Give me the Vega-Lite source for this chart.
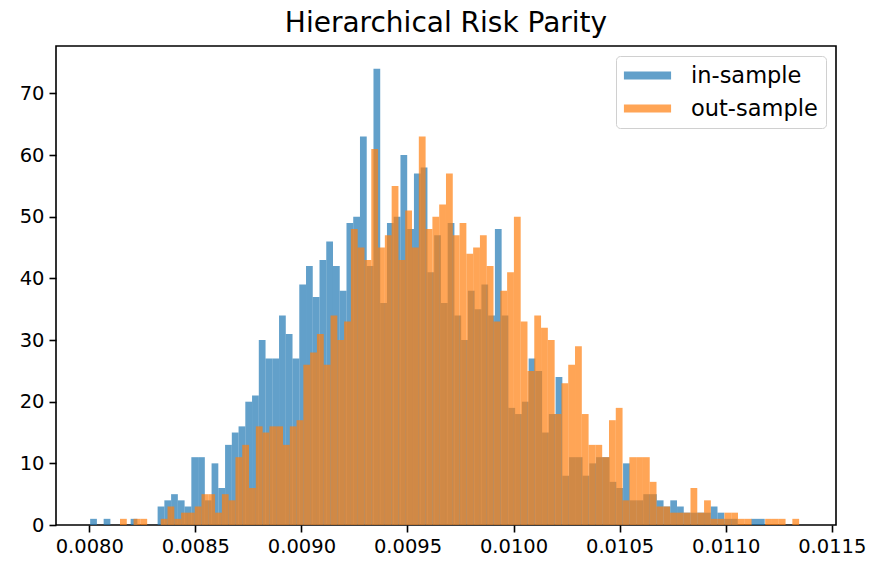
{
  "$schema": "https://vega.github.io/schema/vega-lite/v6.json",
  "width": 780,
  "height": 479,
  "autosize": {"type": "none"},
  "padding": {"left": 56, "top": 46, "right": 37, "bottom": 40},
  "background": "#ffffff",
  "title": {"text": "Hierarchical Risk Parity", "font": "DejaVu Sans", "fontSize": 28, "fontWeight": "normal", "color": "#000000", "offset": 12, "baseline": "alphabetic", "frame": "group", "anchor": "middle", "dy": 26},
  "data": {"values": [
    {"s": "in-sample", "lo": 0.0080040, "hi": 0.0080358, "n": 1},
    {"s": "in-sample", "lo": 0.0080676, "hi": 0.0080994, "n": 1},
    {"s": "in-sample", "lo": 0.0081948, "hi": 0.0082266, "n": 1},
    {"s": "in-sample", "lo": 0.0083220, "hi": 0.0083538, "n": 3},
    {"s": "in-sample", "lo": 0.0083538, "hi": 0.0083856, "n": 4},
    {"s": "in-sample", "lo": 0.0083856, "hi": 0.0084174, "n": 5},
    {"s": "in-sample", "lo": 0.0084174, "hi": 0.0084492, "n": 4},
    {"s": "in-sample", "lo": 0.0084492, "hi": 0.0084810, "n": 3},
    {"s": "in-sample", "lo": 0.0084810, "hi": 0.0085128, "n": 11},
    {"s": "in-sample", "lo": 0.0085128, "hi": 0.0085446, "n": 11},
    {"s": "in-sample", "lo": 0.0085446, "hi": 0.0085764, "n": 4},
    {"s": "in-sample", "lo": 0.0085764, "hi": 0.0086082, "n": 10},
    {"s": "in-sample", "lo": 0.0086082, "hi": 0.0086400, "n": 6},
    {"s": "in-sample", "lo": 0.0086400, "hi": 0.0086718, "n": 13},
    {"s": "in-sample", "lo": 0.0086718, "hi": 0.0087036, "n": 15},
    {"s": "in-sample", "lo": 0.0087036, "hi": 0.0087354, "n": 16},
    {"s": "in-sample", "lo": 0.0087354, "hi": 0.0087672, "n": 20},
    {"s": "in-sample", "lo": 0.0087672, "hi": 0.0087990, "n": 21},
    {"s": "in-sample", "lo": 0.0087990, "hi": 0.0088308, "n": 30},
    {"s": "in-sample", "lo": 0.0088308, "hi": 0.0088626, "n": 27},
    {"s": "in-sample", "lo": 0.0088626, "hi": 0.0088944, "n": 27},
    {"s": "in-sample", "lo": 0.0088944, "hi": 0.0089262, "n": 34},
    {"s": "in-sample", "lo": 0.0089262, "hi": 0.0089580, "n": 31},
    {"s": "in-sample", "lo": 0.0089580, "hi": 0.0089898, "n": 27},
    {"s": "in-sample", "lo": 0.0089898, "hi": 0.0090216, "n": 39},
    {"s": "in-sample", "lo": 0.0090216, "hi": 0.0090534, "n": 42},
    {"s": "in-sample", "lo": 0.0090534, "hi": 0.0090852, "n": 37},
    {"s": "in-sample", "lo": 0.0090852, "hi": 0.0091170, "n": 43},
    {"s": "in-sample", "lo": 0.0091170, "hi": 0.0091488, "n": 46},
    {"s": "in-sample", "lo": 0.0091488, "hi": 0.0091806, "n": 42},
    {"s": "in-sample", "lo": 0.0091806, "hi": 0.0092124, "n": 38},
    {"s": "in-sample", "lo": 0.0092124, "hi": 0.0092442, "n": 49},
    {"s": "in-sample", "lo": 0.0092442, "hi": 0.0092760, "n": 50},
    {"s": "in-sample", "lo": 0.0092760, "hi": 0.0093078, "n": 63},
    {"s": "in-sample", "lo": 0.0093078, "hi": 0.0093396, "n": 42},
    {"s": "in-sample", "lo": 0.0093396, "hi": 0.0093714, "n": 74},
    {"s": "in-sample", "lo": 0.0093714, "hi": 0.0094032, "n": 36},
    {"s": "in-sample", "lo": 0.0094032, "hi": 0.0094350, "n": 49},
    {"s": "in-sample", "lo": 0.0094350, "hi": 0.0094668, "n": 50},
    {"s": "in-sample", "lo": 0.0094668, "hi": 0.0094986, "n": 60},
    {"s": "in-sample", "lo": 0.0094986, "hi": 0.0095304, "n": 48},
    {"s": "in-sample", "lo": 0.0095304, "hi": 0.0095622, "n": 57},
    {"s": "in-sample", "lo": 0.0095622, "hi": 0.0095940, "n": 58},
    {"s": "in-sample", "lo": 0.0095940, "hi": 0.0096258, "n": 41},
    {"s": "in-sample", "lo": 0.0096258, "hi": 0.0096576, "n": 47},
    {"s": "in-sample", "lo": 0.0096576, "hi": 0.0096894, "n": 36},
    {"s": "in-sample", "lo": 0.0096894, "hi": 0.0097212, "n": 49},
    {"s": "in-sample", "lo": 0.0097212, "hi": 0.0097530, "n": 34},
    {"s": "in-sample", "lo": 0.0097530, "hi": 0.0097848, "n": 30},
    {"s": "in-sample", "lo": 0.0097848, "hi": 0.0098166, "n": 38},
    {"s": "in-sample", "lo": 0.0098166, "hi": 0.0098484, "n": 35},
    {"s": "in-sample", "lo": 0.0098484, "hi": 0.0098802, "n": 39},
    {"s": "in-sample", "lo": 0.0098802, "hi": 0.0099120, "n": 34},
    {"s": "in-sample", "lo": 0.0099120, "hi": 0.0099438, "n": 48},
    {"s": "in-sample", "lo": 0.0099438, "hi": 0.0099756, "n": 34},
    {"s": "in-sample", "lo": 0.0099756, "hi": 0.0100074, "n": 19},
    {"s": "in-sample", "lo": 0.0100074, "hi": 0.0100392, "n": 18},
    {"s": "in-sample", "lo": 0.0100392, "hi": 0.0100710, "n": 20},
    {"s": "in-sample", "lo": 0.0100710, "hi": 0.0101028, "n": 27},
    {"s": "in-sample", "lo": 0.0101028, "hi": 0.0101346, "n": 25},
    {"s": "in-sample", "lo": 0.0101346, "hi": 0.0101664, "n": 15},
    {"s": "in-sample", "lo": 0.0101664, "hi": 0.0101982, "n": 18},
    {"s": "in-sample", "lo": 0.0101982, "hi": 0.0102300, "n": 24},
    {"s": "in-sample", "lo": 0.0102300, "hi": 0.0102618, "n": 8},
    {"s": "in-sample", "lo": 0.0102618, "hi": 0.0102936, "n": 11},
    {"s": "in-sample", "lo": 0.0102936, "hi": 0.0103254, "n": 11},
    {"s": "in-sample", "lo": 0.0103254, "hi": 0.0103572, "n": 8},
    {"s": "in-sample", "lo": 0.0103572, "hi": 0.0103890, "n": 10},
    {"s": "in-sample", "lo": 0.0103890, "hi": 0.0104208, "n": 11},
    {"s": "in-sample", "lo": 0.0104208, "hi": 0.0104526, "n": 11},
    {"s": "in-sample", "lo": 0.0104526, "hi": 0.0104844, "n": 7},
    {"s": "in-sample", "lo": 0.0104844, "hi": 0.0105162, "n": 6},
    {"s": "in-sample", "lo": 0.0105162, "hi": 0.0105480, "n": 10},
    {"s": "in-sample", "lo": 0.0105480, "hi": 0.0105798, "n": 4},
    {"s": "in-sample", "lo": 0.0105798, "hi": 0.0106116, "n": 4},
    {"s": "in-sample", "lo": 0.0106116, "hi": 0.0106434, "n": 5},
    {"s": "in-sample", "lo": 0.0106434, "hi": 0.0106752, "n": 5},
    {"s": "in-sample", "lo": 0.0106752, "hi": 0.0107070, "n": 4},
    {"s": "in-sample", "lo": 0.0107070, "hi": 0.0107388, "n": 3},
    {"s": "in-sample", "lo": 0.0107388, "hi": 0.0107706, "n": 4},
    {"s": "in-sample", "lo": 0.0107706, "hi": 0.0108024, "n": 3},
    {"s": "in-sample", "lo": 0.0108024, "hi": 0.0108342, "n": 2},
    {"s": "in-sample", "lo": 0.0108342, "hi": 0.0108660, "n": 2},
    {"s": "in-sample", "lo": 0.0108660, "hi": 0.0108978, "n": 2},
    {"s": "in-sample", "lo": 0.0108978, "hi": 0.0109296, "n": 2},
    {"s": "in-sample", "lo": 0.0109296, "hi": 0.0109614, "n": 3},
    {"s": "in-sample", "lo": 0.0109614, "hi": 0.0109932, "n": 2},
    {"s": "in-sample", "lo": 0.0109932, "hi": 0.0110250, "n": 1},
    {"s": "in-sample", "lo": 0.0110250, "hi": 0.0110568, "n": 1},
    {"s": "in-sample", "lo": 0.0111204, "hi": 0.0111522, "n": 1},
    {"s": "in-sample", "lo": 0.0111522, "hi": 0.0111840, "n": 1},
    {"s": "out-sample", "lo": 0.0081447, "hi": 0.0081767, "n": 1},
    {"s": "out-sample", "lo": 0.0082087, "hi": 0.0082408, "n": 1},
    {"s": "out-sample", "lo": 0.0082408, "hi": 0.0082728, "n": 1},
    {"s": "out-sample", "lo": 0.0083368, "hi": 0.0083688, "n": 1},
    {"s": "out-sample", "lo": 0.0083688, "hi": 0.0084008, "n": 3},
    {"s": "out-sample", "lo": 0.0084008, "hi": 0.0084328, "n": 1},
    {"s": "out-sample", "lo": 0.0084328, "hi": 0.0084649, "n": 2},
    {"s": "out-sample", "lo": 0.0084649, "hi": 0.0084969, "n": 2},
    {"s": "out-sample", "lo": 0.0084969, "hi": 0.0085289, "n": 3},
    {"s": "out-sample", "lo": 0.0085289, "hi": 0.0085609, "n": 5},
    {"s": "out-sample", "lo": 0.0085609, "hi": 0.0085929, "n": 5},
    {"s": "out-sample", "lo": 0.0085929, "hi": 0.0086249, "n": 2},
    {"s": "out-sample", "lo": 0.0086249, "hi": 0.0086569, "n": 5},
    {"s": "out-sample", "lo": 0.0086569, "hi": 0.0086890, "n": 4},
    {"s": "out-sample", "lo": 0.0086890, "hi": 0.0087210, "n": 11},
    {"s": "out-sample", "lo": 0.0087210, "hi": 0.0087530, "n": 13},
    {"s": "out-sample", "lo": 0.0087530, "hi": 0.0087850, "n": 6},
    {"s": "out-sample", "lo": 0.0087850, "hi": 0.0088170, "n": 16},
    {"s": "out-sample", "lo": 0.0088170, "hi": 0.0088490, "n": 15},
    {"s": "out-sample", "lo": 0.0088490, "hi": 0.0088810, "n": 16},
    {"s": "out-sample", "lo": 0.0088810, "hi": 0.0089131, "n": 16},
    {"s": "out-sample", "lo": 0.0089131, "hi": 0.0089451, "n": 13},
    {"s": "out-sample", "lo": 0.0089451, "hi": 0.0089771, "n": 16},
    {"s": "out-sample", "lo": 0.0089771, "hi": 0.0090091, "n": 17},
    {"s": "out-sample", "lo": 0.0090091, "hi": 0.0090411, "n": 26},
    {"s": "out-sample", "lo": 0.0090411, "hi": 0.0090731, "n": 28},
    {"s": "out-sample", "lo": 0.0090731, "hi": 0.0091052, "n": 31},
    {"s": "out-sample", "lo": 0.0091052, "hi": 0.0091372, "n": 26},
    {"s": "out-sample", "lo": 0.0091372, "hi": 0.0091692, "n": 34},
    {"s": "out-sample", "lo": 0.0091692, "hi": 0.0092012, "n": 30},
    {"s": "out-sample", "lo": 0.0092012, "hi": 0.0092332, "n": 33},
    {"s": "out-sample", "lo": 0.0092332, "hi": 0.0092652, "n": 48},
    {"s": "out-sample", "lo": 0.0092652, "hi": 0.0092972, "n": 45},
    {"s": "out-sample", "lo": 0.0092972, "hi": 0.0093293, "n": 43},
    {"s": "out-sample", "lo": 0.0093293, "hi": 0.0093613, "n": 61},
    {"s": "out-sample", "lo": 0.0093613, "hi": 0.0093933, "n": 45},
    {"s": "out-sample", "lo": 0.0093933, "hi": 0.0094253, "n": 47},
    {"s": "out-sample", "lo": 0.0094253, "hi": 0.0094573, "n": 55},
    {"s": "out-sample", "lo": 0.0094573, "hi": 0.0094893, "n": 43},
    {"s": "out-sample", "lo": 0.0094893, "hi": 0.0095213, "n": 51},
    {"s": "out-sample", "lo": 0.0095213, "hi": 0.0095534, "n": 45},
    {"s": "out-sample", "lo": 0.0095534, "hi": 0.0095854, "n": 63},
    {"s": "out-sample", "lo": 0.0095854, "hi": 0.0096174, "n": 48},
    {"s": "out-sample", "lo": 0.0096174, "hi": 0.0096494, "n": 50},
    {"s": "out-sample", "lo": 0.0096494, "hi": 0.0096814, "n": 52},
    {"s": "out-sample", "lo": 0.0096814, "hi": 0.0097134, "n": 57},
    {"s": "out-sample", "lo": 0.0097134, "hi": 0.0097455, "n": 47},
    {"s": "out-sample", "lo": 0.0097455, "hi": 0.0097775, "n": 49},
    {"s": "out-sample", "lo": 0.0097775, "hi": 0.0098095, "n": 44},
    {"s": "out-sample", "lo": 0.0098095, "hi": 0.0098415, "n": 45},
    {"s": "out-sample", "lo": 0.0098415, "hi": 0.0098735, "n": 47},
    {"s": "out-sample", "lo": 0.0098735, "hi": 0.0099055, "n": 42},
    {"s": "out-sample", "lo": 0.0099055, "hi": 0.0099375, "n": 33},
    {"s": "out-sample", "lo": 0.0099375, "hi": 0.0099696, "n": 38},
    {"s": "out-sample", "lo": 0.0099696, "hi": 0.0100016, "n": 41},
    {"s": "out-sample", "lo": 0.0100016, "hi": 0.0100336, "n": 50},
    {"s": "out-sample", "lo": 0.0100336, "hi": 0.0100656, "n": 33},
    {"s": "out-sample", "lo": 0.0100656, "hi": 0.0100976, "n": 25},
    {"s": "out-sample", "lo": 0.0100976, "hi": 0.0101296, "n": 34},
    {"s": "out-sample", "lo": 0.0101296, "hi": 0.0101616, "n": 32},
    {"s": "out-sample", "lo": 0.0101616, "hi": 0.0101937, "n": 30},
    {"s": "out-sample", "lo": 0.0101937, "hi": 0.0102257, "n": 18},
    {"s": "out-sample", "lo": 0.0102257, "hi": 0.0102577, "n": 23},
    {"s": "out-sample", "lo": 0.0102577, "hi": 0.0102897, "n": 26},
    {"s": "out-sample", "lo": 0.0102897, "hi": 0.0103217, "n": 29},
    {"s": "out-sample", "lo": 0.0103217, "hi": 0.0103537, "n": 18},
    {"s": "out-sample", "lo": 0.0103537, "hi": 0.0103858, "n": 13},
    {"s": "out-sample", "lo": 0.0103858, "hi": 0.0104178, "n": 13},
    {"s": "out-sample", "lo": 0.0104178, "hi": 0.0104498, "n": 11},
    {"s": "out-sample", "lo": 0.0104498, "hi": 0.0104818, "n": 17},
    {"s": "out-sample", "lo": 0.0104818, "hi": 0.0105138, "n": 19},
    {"s": "out-sample", "lo": 0.0105138, "hi": 0.0105458, "n": 4},
    {"s": "out-sample", "lo": 0.0105458, "hi": 0.0105778, "n": 11},
    {"s": "out-sample", "lo": 0.0105778, "hi": 0.0106099, "n": 11},
    {"s": "out-sample", "lo": 0.0106099, "hi": 0.0106419, "n": 11},
    {"s": "out-sample", "lo": 0.0106419, "hi": 0.0106739, "n": 7},
    {"s": "out-sample", "lo": 0.0106739, "hi": 0.0107059, "n": 3},
    {"s": "out-sample", "lo": 0.0107059, "hi": 0.0107379, "n": 3},
    {"s": "out-sample", "lo": 0.0107379, "hi": 0.0107699, "n": 2},
    {"s": "out-sample", "lo": 0.0107699, "hi": 0.0108019, "n": 2},
    {"s": "out-sample", "lo": 0.0108019, "hi": 0.0108340, "n": 2},
    {"s": "out-sample", "lo": 0.0108340, "hi": 0.0108660, "n": 6},
    {"s": "out-sample", "lo": 0.0108660, "hi": 0.0108980, "n": 2},
    {"s": "out-sample", "lo": 0.0108980, "hi": 0.0109300, "n": 4},
    {"s": "out-sample", "lo": 0.0109300, "hi": 0.0109620, "n": 1},
    {"s": "out-sample", "lo": 0.0109620, "hi": 0.0109940, "n": 1},
    {"s": "out-sample", "lo": 0.0109940, "hi": 0.0110261, "n": 2},
    {"s": "out-sample", "lo": 0.0110261, "hi": 0.0110581, "n": 2},
    {"s": "out-sample", "lo": 0.0110581, "hi": 0.0110901, "n": 1},
    {"s": "out-sample", "lo": 0.0110901, "hi": 0.0111221, "n": 1},
    {"s": "out-sample", "lo": 0.0111861, "hi": 0.0112181, "n": 1},
    {"s": "out-sample", "lo": 0.0112181, "hi": 0.0112502, "n": 1},
    {"s": "out-sample", "lo": 0.0112502, "hi": 0.0112822, "n": 1},
    {"s": "out-sample", "lo": 0.0113142, "hi": 0.0113462, "n": 1}
  ]},
  "mark": {"type": "rect", "opacity": 0.7, "strokeWidth": 0},
  "encoding": {
    "x": {"field": "lo", "type": "quantitative",
      "scale": {"domain": [0.007843, 0.01152], "nice": false, "zero": false},
      "axis": {"title": null, "values": [0.008, 0.0085, 0.009, 0.0095, 0.01, 0.0105, 0.011, 0.0115], "format": ".4f"}},
    "x2": {"field": "hi"},
    "y": {"field": "n", "type": "quantitative",
      "scale": {"domain": [0, 77.7], "nice": false},
      "axis": {"title": null, "values": [0, 10, 20, 30, 40, 50, 60, 70], "format": "d"}},
    "y2": {"datum": 0},
    "color": {"field": "s", "type": "nominal",
      "scale": {"domain": ["in-sample", "out-sample"], "range": ["#1f77b4", "#ff7f0e"]},
      "legend": {"title": null, "orient": "top-right", "offset": 10}}
  },
  "config": {
    "view": {"stroke": "#000000", "strokeWidth": 1.6},
    "axis": {"grid": false, "domain": false, "tickColor": "#000000", "tickWidth": 1.6, "tickSize": 7, "labelFont": "DejaVu Sans", "labelFontSize": 19.5, "labelColor": "#000000", "labelPadding": 5, "labelFlush": false, "labelOverlap": false},
    "legend": {"symbolType": "M-2.05,-0.35H2.05V0.35H-2.05Z", "symbolSize": 529, "symbolOffset": 12, "symbolOpacity": 0.7, "symbolStrokeWidth": 0, "labelFont": "DejaVu Sans", "labelFontSize": 22.5, "labelColor": "#000000", "labelOffset": 32, "padding": 8, "rowPadding": 10, "strokeColor": "#d0d0d0", "fillColor": "#ffffff", "cornerRadius": 4}
  }
}
